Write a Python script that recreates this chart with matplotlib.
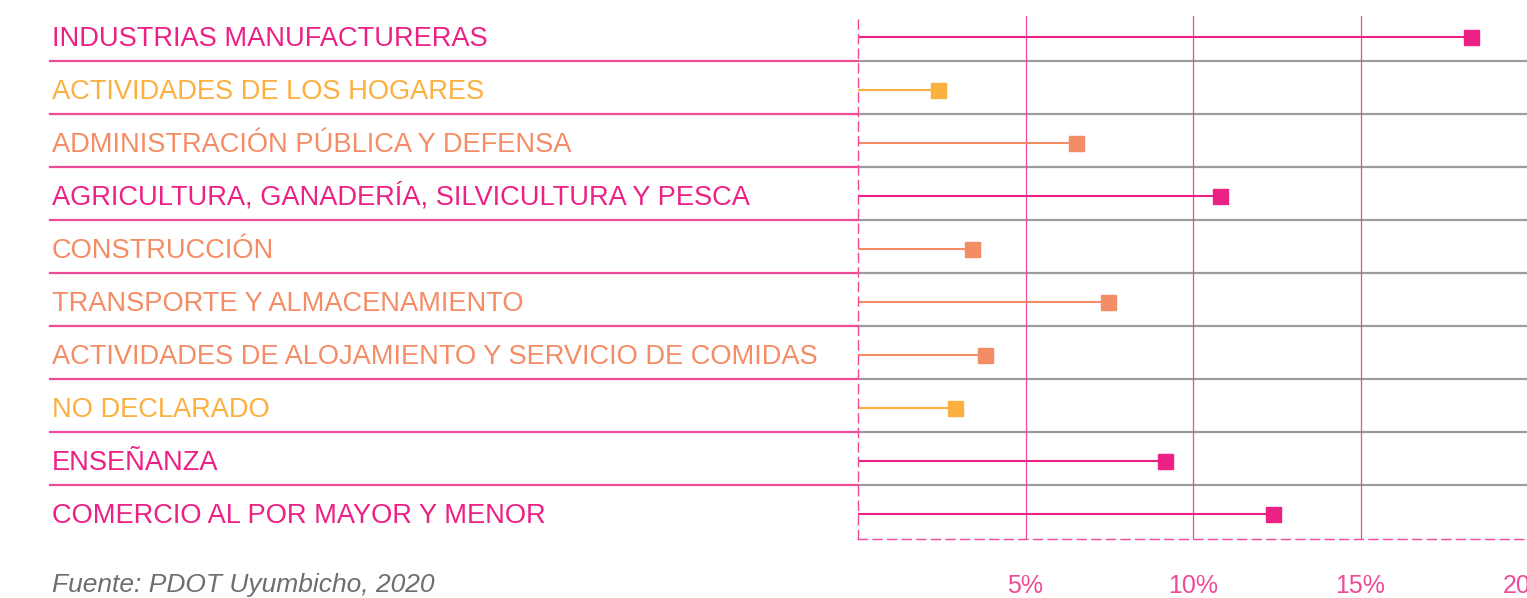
import matplotlib
matplotlib.use("Agg")
from matplotlib import pyplot as plt
from matplotlib.transforms import blended_transform_factory

# datos (porcentaje de poblacion ocupada por rama)
categorias = [
    "INDUSTRIAS MANUFACTURERAS",
    "ACTIVIDADES DE LOS HOGARES",
    "ADMINISTRACIÓN PÚBLICA Y DEFENSA",
    "AGRICULTURA, GANADERÍA, SILVICULTURA Y PESCA",
    "CONSTRUCCIÓN",
    "TRANSPORTE Y ALMACENAMIENTO",
    "ACTIVIDADES DE ALOJAMIENTO Y SERVICIO DE COMIDAS",
    "NO DECLARADO",
    "ENSEÑANZA",
    "COMERCIO AL POR MAYOR Y MENOR",
]
valores = [18.3, 2.4, 6.5, 10.8, 3.4, 7.45, 3.8, 2.9, 9.15, 12.4]
grupos = ["rosa", "naranja", "salmon", "rosa", "salmon",
          "salmon", "salmon", "naranja", "rosa", "rosa"]
ticks = [5, 10, 15, 20]
tick_labels = ["5%", "10%", "15%", "20%"]
fuente = "Fuente: PDOT Uyumbicho, 2020"

colores = {"rosa": "#EC2185", "naranja": "#FBB040", "salmon": "#F48D66"}
ROSA_LINEA = "#EE4A97"
GRIS = "#9C9C9C"

plt.rcParams["font.family"] = ["Liberation Sans", "DejaVu Sans"]

W, H = 1527, 598
fig = plt.figure(figsize=(W / 100, H / 100), dpi=100)

# ejes: 0% en x=858 px, 20% en x=1528 px, de y=16 a y=539 px
x0, x1 = 858, 1528
ytop, ybot = 16, 539
ax = fig.add_axes([x0 / W, 1 - ybot / H, (x1 - x0) / W, (ybot - ytop) / H])

row0, paso = 37, 53.0
ax.set_xlim(0, 20)
ax.set_ylim((ybot - row0) / paso, (ytop - row0) / paso)

n = len(categorias)
ys = list(range(n))
trans = blended_transform_factory(fig.transFigure, ax.transData)

# lineas de separacion
for i in range(n - 1):
    y = i + 24 / paso
    ax.axhline(y, color=GRIS, lw=1.6, zorder=1)
    ax.plot([50 / W, x0 / W], [y, y], transform=trans, color=ROSA_LINEA,
            lw=1.6, clip_on=False, zorder=1)

# rejilla vertical
for t in ticks[:-1]:
    ax.axvline(t, color=ROSA_LINEA, lw=0.9, zorder=1)

# paletas
for y, v, g in zip(ys, valores, grupos):
    c = colores[g]
    ax.hlines(y, 0, v, color=c, lw=1.5, zorder=2)
    ax.plot(v, y, marker="s", ms=10.8, color=c, mec=c, zorder=3)

# etiquetas (linea base ~9 px bajo el centro de la fila)
for y, cat, g in zip(ys, categorias, grupos):
    ax.text(52 / W, y + 9 / paso, cat, transform=trans, color=colores[g],
            fontsize=19.6, va="baseline", ha="left")

# ejes
for s in ["top", "right"]:
    ax.spines[s].set_visible(False)
for s in ["left", "bottom"]:
    ax.spines[s].set_color(ROSA_LINEA)
    ax.spines[s].set_linewidth(1.0)
    ax.spines[s].set_linestyle((0, (6.5, 4)))
ax.set_yticks([])
ax.set_xticks(ticks, tick_labels)
ax.tick_params(axis="x", length=0, pad=25, labelsize=18, labelcolor=ROSA_LINEA)

fig.text(52 / W, 1 - 592 / H, fuente, style="italic", color="#6D6E71",
         fontsize=19, va="baseline", ha="left")

fig.savefig("out.png", dpi=100)
